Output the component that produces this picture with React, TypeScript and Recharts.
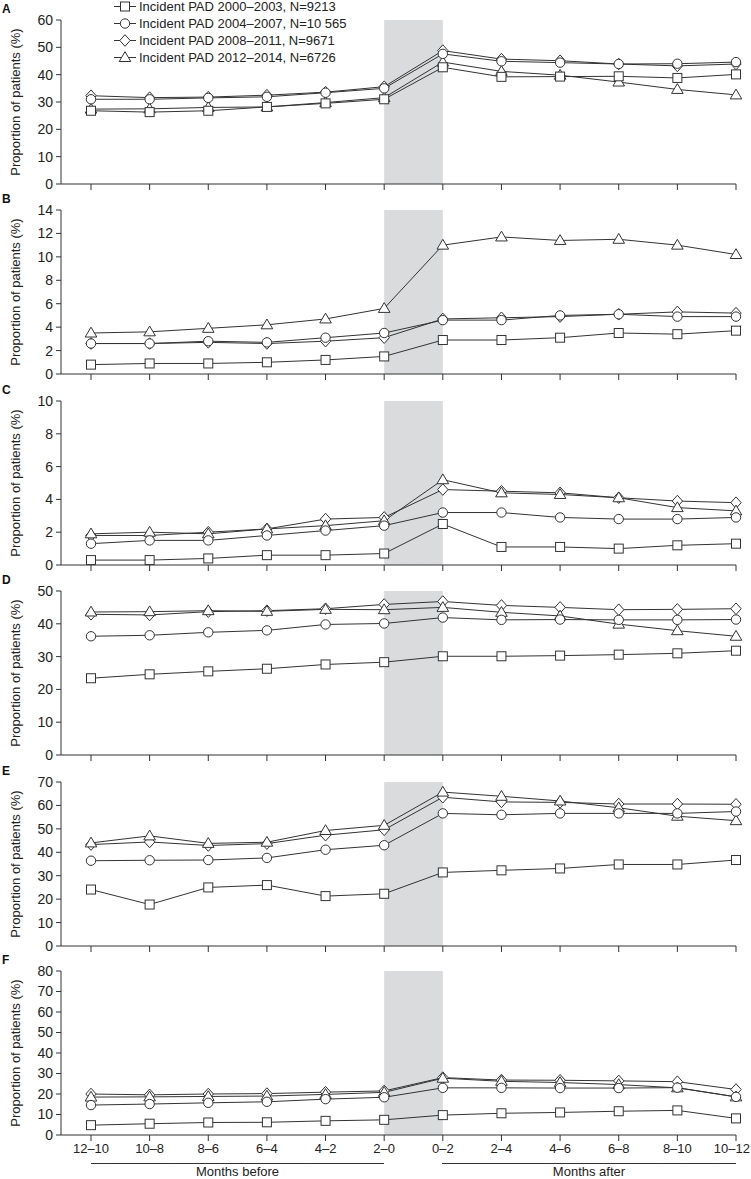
import React from "react";
import {
  LineChart,
  Line,
  XAxis,
  YAxis,
  ReferenceArea,
  Legend,
} from "recharts";

const periods = ["12–10", "10–8", "8–6", "6–4", "4–2", "2–0", "0–2", "2–4", "4–6", "6–8", "8–10", "10–12"];

const seriesNames = [
  "Incident PAD 2000–2003, N=9213",
  "Incident PAD 2004–2007, N=10 565",
  "Incident PAD 2008–2011, N=9671",
  "Incident PAD 2012–2014, N=6726",
];

// panel A
const a2000 = [26.8, 26.3, 26.8, 28.2, 29.5, 31.0, 42.7, 39.2, 39.3, 39.4, 38.8, 40.1];
const a2004 = [31.0, 31.0, 31.5, 31.9, 33.4, 35.0, 47.6, 44.9, 44.4, 43.9, 44.0, 44.6];
const a2008 = [32.3, 31.6, 31.8, 32.5, 33.6, 35.6, 48.8, 45.7, 45.1, 43.9, 43.2, 43.9];
const a2012 = [27.4, 27.5, 28.0, 28.2, 29.8, 31.6, 44.6, 41.2, 39.8, 37.3, 34.6, 32.6];

// panel B
const b2000 = [0.8, 0.9, 0.9, 1.0, 1.2, 1.5, 2.9, 2.9, 3.1, 3.5, 3.4, 3.7];
const b2004 = [2.6, 2.6, 2.8, 2.7, 3.1, 3.5, 4.6, 4.6, 5.0, 5.1, 4.9, 4.9];
const b2008 = [2.6, 2.6, 2.7, 2.6, 2.8, 3.1, 4.7, 4.8, 4.9, 5.1, 5.3, 5.2];
const b2012 = [3.5, 3.6, 3.9, 4.2, 4.7, 5.6, 11.0, 11.7, 11.4, 11.5, 11.0, 10.2];

// panel C
const c2000 = [0.3, 0.3, 0.4, 0.6, 0.6, 0.7, 2.5, 1.1, 1.1, 1.0, 1.2, 1.3];
const c2004 = [1.3, 1.5, 1.5, 1.8, 2.1, 2.4, 3.2, 3.2, 2.9, 2.8, 2.8, 2.9];
const c2008 = [1.8, 1.8, 2.0, 2.2, 2.8, 2.9, 4.6, 4.5, 4.4, 4.1, 3.9, 3.8];
const c2012 = [1.9, 2.0, 1.9, 2.2, 2.4, 2.7, 5.2, 4.4, 4.3, 4.1, 3.5, 3.3];

// panel D
const d2000 = [23.4, 24.6, 25.5, 26.3, 27.6, 28.3, 30.1, 30.1, 30.3, 30.6, 31.0, 31.8];
const d2004 = [36.2, 36.5, 37.4, 38.0, 39.8, 40.1, 41.9, 41.2, 41.3, 41.2, 41.2, 41.3];
const d2008 = [42.9, 42.7, 43.7, 44.0, 44.6, 45.9, 46.8, 45.6, 45.0, 44.3, 44.4, 44.6];
const d2012 = [43.6, 43.7, 44.0, 43.8, 44.4, 44.3, 45.0, 43.5, 42.4, 39.9, 37.9, 36.2];

// panel E
const e2000 = [24.1, 17.7, 25.0, 26.0, 21.3, 22.3, 31.4, 32.3, 33.1, 34.8, 34.8, 36.7];
const e2004 = [36.4, 36.6, 36.7, 37.6, 41.1, 43.0, 56.6, 56.0, 56.6, 56.6, 56.6, 57.4];
const e2008 = [43.3, 44.4, 42.9, 43.7, 47.3, 49.6, 63.5, 61.5, 61.3, 60.6, 60.6, 60.5];
const e2012 = [44.0, 47.0, 43.8, 44.3, 49.3, 51.5, 65.7, 63.9, 61.9, 59.0, 55.4, 53.5];

// panel F
const f2000 = [4.8, 5.5, 6.1, 6.2, 6.9, 7.4, 9.7, 10.6, 11.0, 11.6, 12.0, 8.1];
const f2004 = [14.6, 15.1, 15.7, 16.2, 17.5, 18.4, 23.0, 23.0, 22.9, 22.9, 23.1, 18.6];
const f2008 = [20.0, 19.6, 20.0, 20.2, 20.9, 21.5, 28.0, 26.8, 26.7, 26.4, 26.0, 22.2];
const f2012 = [18.5, 18.6, 18.8, 19.0, 19.8, 20.8, 27.7, 26.2, 25.6, 24.6, 23.0, 18.6];

const aTicks = [0, 10, 20, 30, 40, 50, 60];
const bTicks = [0, 2, 4, 6, 8, 10, 12, 14];
const cTicks = [0, 2, 4, 6, 8, 10];
const dTicks = [0, 10, 20, 30, 40, 50];
const eTicks = [0, 10, 20, 30, 40, 50, 60, 70];
const fTicks = [0, 10, 20, 30, 40, 50, 60, 70, 80];

const panels = [
  { letter: "A", top: 20, ticks: aTicks, values: [a2000, a2004, a2008, a2012] },
  { letter: "B", top: 210, ticks: bTicks, values: [b2000, b2004, b2008, b2012] },
  { letter: "C", top: 401, ticks: cTicks, values: [c2000, c2004, c2008, c2012] },
  { letter: "D", top: 591, ticks: dTicks, values: [d2000, d2004, d2008, d2012] },
  { letter: "E", top: 782, ticks: eTicks, values: [e2000, e2004, e2008, e2012] },
  { letter: "F", top: 971, ticks: fTicks, values: [f2000, f2004, f2008, f2012] },
];

const SHAPES = ["square", "circle", "diamond", "triangle"];
// draw order so overlaps look like the print
const DRAW_ORDER = [2, 3, 1, 0];

const INK = "#333";
const FONT = "'Liberation Sans', Arial, Helvetica, sans-serif";
const NARROW = "'Liberation Sans Narrow', 'Arial Narrow', 'Liberation Sans', Arial, sans-serif";
const PLOT_H = 164;
const CHART_W = 751;

function Marker({ cx, cy, shape }: { cx: number; cy: number; shape: string }) {
  if (cx == null || cy == null) return null;
  const common = { fill: "#fff", stroke: INK, strokeWidth: 1 };
  if (shape === "square") return <rect x={cx - 4.5} y={cy - 4.5} width={9} height={9} {...common} />;
  if (shape === "circle") return <circle cx={cx} cy={cy} r={4.7} {...common} />;
  if (shape === "diamond")
    return <polygon points={`${cx},${cy - 5.8} ${cx + 5.2},${cy} ${cx},${cy + 5.8} ${cx - 5.2},${cy}`} {...common} />;
  return <polygon points={`${cx},${cy - 5.8} ${cx + 5.8},${cy + 4} ${cx - 5.8},${cy + 4}`} {...common} />;
}

const EmptyTick = () => <g />;

// period labels; the last one is pulled in so it stays on the page
const PeriodTick = (props: any) => {
  const { x, y, payload, index } = props;
  const isLast = index === periods.length - 1;
  return (
    <text
      x={isLast ? CHART_W - 1 : x}
      y={y}
      dy="0.71em"
      textAnchor={isLast ? "end" : "middle"}
      fontSize={13}
      fontFamily={NARROW}
      fill="#222"
    >
      {payload.value}
    </text>
  );
};

const YLabel = (props: any) => {
  const vb = props.viewBox || { y: 20, height: PLOT_H };
  const cx = 15;
  const cy = vb.y + vb.height / 2;
  return (
    <text
      x={cx}
      y={cy}
      transform={`rotate(-90, ${cx}, ${cy})`}
      textAnchor="middle"
      dominantBaseline="central"
      fontSize={13}
      fontFamily={FONT}
      fill="#222"
    >
      Proportion of patients (%)
    </text>
  );
};

const LegendBox = () => (
  <div style={{ fontFamily: FONT, fontSize: 13, color: "#222" }}>
    {seriesNames.map((name, i) => (
      <div key={name} style={{ display: "flex", alignItems: "center", height: 17 }}>
        <svg width={24} height={17} style={{ display: "block" }}>
          <line x1={1} x2={23} y1={8.5} y2={8.5} stroke={INK} strokeWidth={1} />
          <Marker cx={12} cy={8.5} shape={SHAPES[i]} />
        </svg>
        <span style={{ marginLeft: 2, whiteSpace: "nowrap" }}>{name}</span>
      </div>
    ))}
  </div>
);

function Panel({ panel, last }: { panel: (typeof panels)[number]; last: boolean }) {
  const rows = periods.map((p, i) => ({
    period: p,
    s0: panel.values[0][i],
    s1: panel.values[1][i],
    s2: panel.values[2][i],
    s3: panel.values[3][i],
  }));
  const axisH = last ? 44 : 6;
  const height = 20 + PLOT_H + axisH;
  const max = panel.ticks[panel.ticks.length - 1];

  return (
    <div style={{ position: "absolute", left: 0, top: panel.top - 20 }}>
      <LineChart width={CHART_W} height={height} data={rows} margin={{ top: 20, right: 15, left: 0, bottom: 0 }}>
        <XAxis
          dataKey="period"
          padding={{ left: 30, right: 0 }}
          interval={0}
          height={axisH}
          tickSize={6}
          tickMargin={3}
          axisLine={{ stroke: INK }}
          tickLine={{ stroke: INK }}
          tick={last ? PeriodTick : EmptyTick}
        />
        <YAxis
          width={61}
          domain={[0, max]}
          ticks={panel.ticks}
          interval={0}
          tickSize={5}
          tickMargin={3}
          axisLine={{ stroke: INK }}
          tickLine={{ stroke: INK }}
          tick={{ fontSize: 14, fill: "#222", fontFamily: NARROW }}
          label={YLabel}
        />
        <ReferenceArea x1="2–0" x2="0–2" fill="#dadbdc" fillOpacity={1} stroke="none" />
        {panel.letter === "A" && (
          <Legend
            layout="vertical"
            align="center"
            verticalAlign="middle"
            wrapperStyle={{ left: 113, top: -2, width: 300 }}
            content={LegendBox}
          />
        )}
        {DRAW_ORDER.map((k) => (
          <Line
            key={k}
            type="linear"
            dataKey={`s${k}`}
            name={seriesNames[k]}
            stroke={INK}
            strokeWidth={1}
            isAnimationActive={false}
            dot={(p: any) => <Marker key={`${k}-${p.index}`} cx={p.cx} cy={p.cy} shape={SHAPES[k]} />}
            activeDot={false}
          />
        ))}
      </LineChart>
      <div
        style={{
          position: "absolute",
          left: 2,
          top: 2,
          fontFamily: FONT,
          fontWeight: "bold",
          fontSize: 12,
          color: "#111",
        }}
      >
        {panel.letter}
      </div>
    </div>
  );
}

export default function App() {
  return (
    <div style={{ position: "relative", width: 751, height: 1179, background: "#fff", overflow: "hidden" }}>
      <style>{"body{margin:0} .recharts-surface{overflow:visible} .recharts-wrapper{overflow:visible}"}</style>
      {panels.map((p, i) => (
        <Panel key={p.letter} panel={p} last={i === panels.length - 1} />
      ))}
      {/* months before / after brackets */}
      <div style={{ position: "absolute", left: 91, top: 1163, width: 293, borderTop: `1px solid ${INK}` }} />
      <div style={{ position: "absolute", left: 442, top: 1163, width: 294, borderTop: `1px solid ${INK}` }} />
      <div
        style={{
          position: "absolute",
          left: 91,
          width: 293,
          top: 1164,
          textAlign: "center",
          fontFamily: FONT,
          fontSize: 13,
          color: "#222",
        }}
      >
        Months before
      </div>
      <div
        style={{
          position: "absolute",
          left: 442,
          width: 294,
          top: 1164,
          textAlign: "center",
          fontFamily: FONT,
          fontSize: 13,
          color: "#222",
        }}
      >
        Months after
      </div>
    </div>
  );
}
